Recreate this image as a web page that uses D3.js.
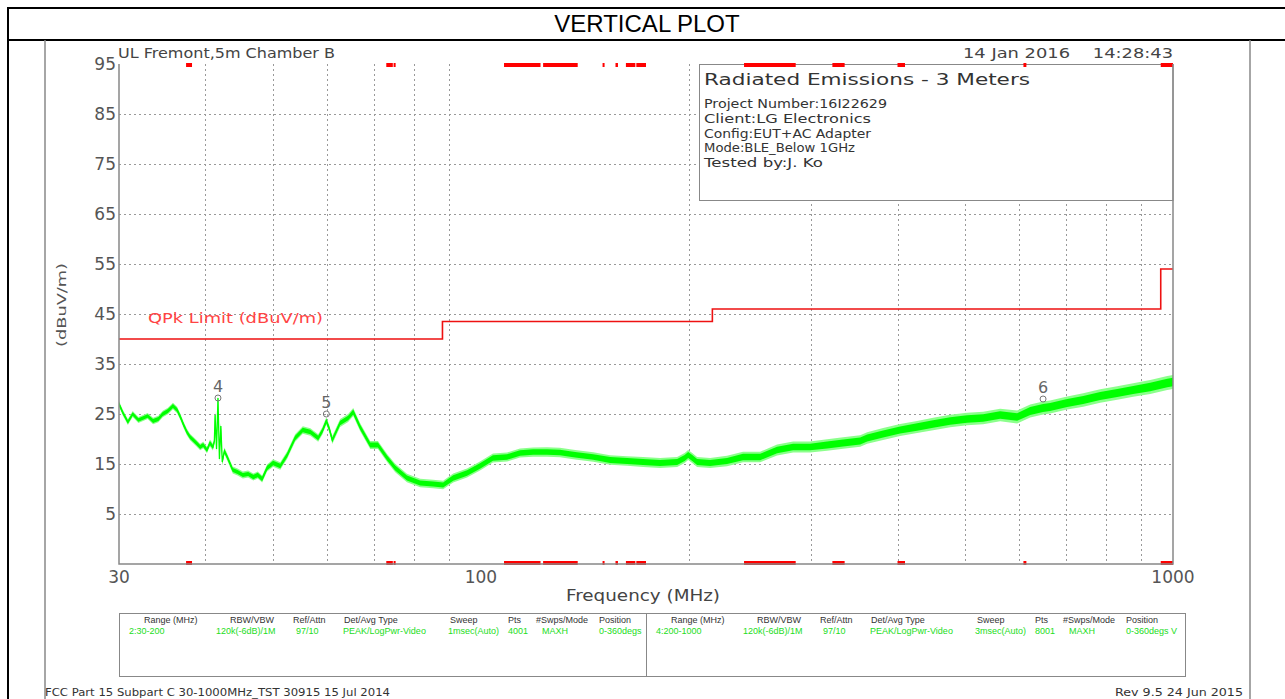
<!DOCTYPE html>
<html>
<head>
<meta charset="utf-8">
<script src="https://cdn.jsdelivr.net/npm/d3@7"></script>
<style>
  body { margin: 0; background: #fff; }
  svg text { font-family: "DejaVu Sans ExtraLight", "DejaVu Sans", sans-serif; white-space: pre; }
</style>
</head>
<body>
<svg id="chart" width="1285" height="699"></svg>
<script>
const traceMHz = [30.0, 30.4, 30.9, 31.4, 32.0, 32.5, 33.0, 33.6, 34.2, 34.7, 35.3, 35.9, 36.4, 36.8, 37.2, 37.6,
  38.0, 38.4, 38.8, 39.3, 39.7, 40.2, 40.6, 41.0, 41.2, 41.3, 41.5, 41.7, 41.9, 42.1, 42.3, 42.6, 43.0, 43.8,
  44.5, 45.3, 46.1, 46.9, 47.6, 48.3, 49.1, 50.1, 51.3, 52.5, 53.9, 55.3, 56.7, 58.2, 59.0, 59.8, 60.4, 61.0,
  62.6, 64.3, 65.4, 66.9, 69.2, 71.0, 73.2, 75.2, 78.2, 81.7, 85.3, 88.2, 91.2, 95.5, 99.7, 104.1, 109.1,
  113.9, 119.0, 124.6, 130.1, 134.5, 137.7, 145.3, 153.7, 162.6, 171.5, 181.5, 192.1, 197.0, 199.3, 202.0,
  205.3, 214.4, 226.8, 239.2, 253.2, 267.9, 282.6, 299.0, 316.4, 333.7, 353.2, 361.5, 381.2, 403.4, 426.9,
  450.2, 476.5, 504.1, 531.8, 562.7, 595.4, 621.8, 649.0, 664.4, 703.3, 741.8, 784.9, 830.6, 876.0, 927.1,
  981.1, 1000];
const traceDb = [27.0, 25.2, 23.4, 25.0, 23.8, 24.2, 24.6, 23.6, 24.0, 25.0, 25.6, 26.6, 25.8, 24.4, 22.8, 21.4,
  20.4, 19.8, 19.2, 18.4, 18.8, 17.8, 19.2, 18.4, 19.5, 24.8, 18.0, 28.2, 16.0, 22.6, 15.4, 17.6, 16.4, 13.8,
  13.4, 12.8, 13.0, 12.4, 12.8, 12.0, 14.2, 15.2, 14.6, 16.8, 20.2, 21.8, 21.4, 20.2, 21.6, 23.6, 22.0, 19.8,
  23.2, 24.2, 25.4, 22.4, 18.8, 18.8, 16.2, 14.2, 12.2, 11.2, 11.0, 10.8, 12.2, 13.2, 14.6, 16.2, 16.4,
  17.2, 17.4, 17.4, 17.3, 17.0, 16.8, 16.4, 15.8, 15.6, 15.4, 15.2, 15.4, 16.2, 16.8, 16.2,
  15.4, 15.2, 15.6, 16.4, 16.4, 17.8, 18.4, 18.4, 18.8, 19.2, 19.6, 20.2, 21.0, 21.8, 22.4,
  23.0, 23.6, 24.0, 24.2, 24.8, 24.4, 25.6, 26.2, 26.4, 27.2, 27.8, 28.6, 29.2, 29.8, 30.4,
  31.2, 31.4];

// peak hold noise half-width, by frequency
const spreadMHz = [30, 100, 200, 400, 1000];
const spreadDb = [0.6, 0.9, 1.0, 1.2, 1.4];

// QPk limit steps
const limitEdges = [30, 88, 216, 960, 1000];
const limitLevels = [40, 43.5, 46, 54];

// restricted bands (red marks on top and bottom)
const bandStart = [37.5, 73, 74.8, 108, 123, 149.9, 156.52, 156.7, 162.01, 167.72, 240, 322, 399.9, 608, 960];
const bandEnd = [38.25, 74.6, 75.2, 121.94, 138, 150.05, 156.53, 156.9, 167.17, 173.2, 285, 335.4, 410, 614, 1000];

const markerIds = ["4", "5", "6"];
const markerMHz = [41.7, 59.8, 649];
const markerDb = [28.2, 25.0, 28.0];

const yTicks = [95, 85, 75, 65, 55, 45, 35, 25, 15, 5];
const xLabels = [30, 100, 1000];
const xGrid = [40, 50, 60, 70, 80, 90, 200, 300, 400, 500, 600, 700, 800, 900];

const infoLines = ["Project Number:16I22629", "Client:LG Electronics", "Config:EUT+AC Adapter",
  "Mode:BLE_Below 1GHz", "Tested by:J. Ko"];

const tableHeaders = ["Range (MHz)", "RBW/VBW", "Ref/Attn", "Det/Avg Type", "Sweep", "Pts", "#Swps/Mode", "Position"];
const tableLeft = ["2:30-200", "120k(-6dB)/1M", "97/10", "PEAK/LogPwr-Video", "1msec(Auto)", "4001", "MAXH", "0-360degs"];
const tableRight = ["4:200-1000", "120k(-6dB)/1M", "97/10", "PEAK/LogPwr-Video", "3msec(Auto)", "8001", "MAXH", "0-360degs V"];

const svg = d3.select("#chart");
const x = d3.scaleLog().domain([30, 1000]).range([119, 1173]);
const y = d3.scaleLinear().domain([-5, 95]).range([564, 64]);
const spread = d3.scaleLog().domain(spreadMHz).range(spreadDb);

function label(str, px, py, opts = {}) {
  const t = svg.append("text")
    .attr("x", px).attr("y", py)
    .attr("font-size", opts.size || 12)
    .attr("fill", opts.fill || "#555")
    .attr("text-anchor", opts.anchor || "start")
    .text(str);
  if (opts.len) t.attr("textLength", opts.len).attr("lengthAdjust", "spacingAndGlyphs");
  if (opts.family) t.style("font-family", opts.family);
  return t;
}

// outer frame + title bar
svg.append("rect").attr("x", 8).attr("y", 8).attr("width", 1300).attr("height", 720)
  .attr("fill", "none").attr("stroke", "#000").attr("stroke-width", 2);
svg.append("line").attr("x1", 8).attr("x2", 1285).attr("y1", 40).attr("y2", 40)
  .attr("stroke", "#000").attr("stroke-width", 2);
label("VERTICAL PLOT", 647, 32, { size: 24, fill: "#000", anchor: "middle", family: "'Liberation Sans', Arial, sans-serif" });

// inner panel
[45, 1250].forEach(px => {
  svg.append("line").attr("x1", px).attr("x2", px).attr("y1", 40).attr("y2", 699)
    .attr("stroke", "#888").attr("stroke-width", 1.5);
});

// grid
const grid = svg.append("g").attr("stroke", "#999").attr("stroke-width", 1).attr("stroke-dasharray", "2,3");
grid.selectAll("line.h").data(yTicks.filter(v => v < 95)).enter().append("line")
  .attr("x1", x(30)).attr("x2", x(1000))
  .attr("y1", d => y(d) + 0.5).attr("y2", d => y(d) + 0.5);
grid.selectAll("line.v").data(xGrid).enter().append("line")
  .attr("x1", d => Math.round(x(d)) + 0.5).attr("x2", d => Math.round(x(d)) + 0.5)
  .attr("y1", y(95)).attr("y2", y(-5));

// info box
svg.append("rect").attr("x", 699.5).attr("y", 64.5).attr("width", x(1000) - 699.5).attr("height", 136)
  .attr("fill", "#fff").attr("stroke", "#888").attr("stroke-width", 1);
label("Radiated Emissions - 3 Meters", 704, 85, { size: 16, fill: "#333", len: 326 });
const infoLens = [183, 167, 167, 151, 119];
infoLines.forEach((s, i) => label(s, 704, 108 + i * 14.8, { size: 12, fill: "#333", len: infoLens[i] }));

// limit line
const limitPts = limitEdges.map((f, i) => [f, limitLevels[Math.min(i, limitLevels.length - 1)]]);
svg.append("path")
  .attr("d", d3.line().x(d => x(d[0])).y(d => y(d[1])).curve(d3.curveStepAfter)(limitPts))
  .attr("fill", "none").attr("stroke", "#ee1111").attr("stroke-width", 1.6);
label("QPk Limit (dBuV/m)", 148, 323, { size: 14, fill: "#ff4444", len: 175 });

// trace: peak-hold band + centre line
svg.append("clipPath").attr("id", "plotclip").append("rect")
  .attr("x", x(30)).attr("y", y(95)).attr("width", x(1000) - x(30)).attr("height", y(-5) - y(95));
const trace = traceMHz.map((f, i) => ({ f: f, v: traceDb[i] }));
const tg = svg.append("g").attr("clip-path", "url(#plotclip)");
const band = k => d3.area().x(d => x(d.f))
  .y0(d => y(d.v - spread(d.f) * k)).y1(d => y(d.v + spread(d.f) * k))(trace);
tg.append("path").attr("d", band(1)).attr("fill", "#8cff8c").attr("stroke", "none");
tg.append("path").attr("d", band(0.6)).attr("fill", "#00ff00").attr("stroke", "none");
tg.append("path")
  .attr("d", d3.line().x(d => x(d.f)).y(d => y(d.v))(trace))
  .attr("fill", "none").attr("stroke", "#00ff00").attr("stroke-width", 1.3);

// markers
markerIds.forEach((m, i) => {
  const mx = x(markerMHz[i]), my = y(markerDb[i]);
  svg.append("circle").attr("cx", mx).attr("cy", my).attr("r", 3)
    .attr("fill", "none").attr("stroke", "#777").attr("stroke-width", 1);
  label(m, mx, my - 6, { size: 16, fill: "#666", anchor: "middle" });
});

// restricted band marks
[y(95) - 1, y(-5) - 3].forEach(py => {
  svg.append("g").selectAll("rect").data(bandStart).enter().append("rect")
    .attr("x", d => x(d))
    .attr("width", (d, i) => Math.max(2, x(bandEnd[i]) - x(d)))
    .attr("y", py).attr("height", 4)
    .attr("fill", "#ff0000");
});

// plot frame
const frame = svg.append("g").attr("stroke", "#888").attr("stroke-width", 1.5).attr("fill", "none");
frame.append("path").attr("d", `M${x(30)},${y(95)}V${y(-5)}H${x(1000)}V${y(95)}`);

// axis labels
yTicks.forEach(v => label(v, 116, y(v) + 6, { size: 17, fill: "#555", anchor: "end" }));
xLabels.forEach(v => label(v, x(v), 583, { size: 17, fill: "#555", anchor: "middle" }));
label("Frequency (MHz)", 643, 601, { size: 16, fill: "#444", anchor: "middle", len: 154 });
svg.append("text").attr("transform", "translate(66,305) rotate(-90)")
  .attr("text-anchor", "middle").attr("font-size", 13).attr("fill", "#555")
  .attr("textLength", 84).attr("lengthAdjust", "spacingAndGlyphs").text("(dBuV/m)");

label("UL Fremont,5m Chamber B", 118, 58, { size: 14, fill: "#444", len: 217 });
label("14 Jan 2016    14:28:43", 1173, 58, { size: 14, fill: "#444", anchor: "end", len: 210 });

// settings table
svg.append("rect").attr("x", 119.5).attr("y", 613.5).attr("width", 1066).attr("height", 63)
  .attr("fill", "none").attr("stroke", "#888").attr("stroke-width", 1);
svg.append("line").attr("x1", 646.5).attr("x2", 646.5).attr("y1", 613.5).attr("y2", 676.5)
  .attr("stroke", "#888").attr("stroke-width", 1);
const headOff = [25, 111, 174, 225, 331, 389, 417, 480];
const valOff = [10, 97, 177, 224, 329, 389, 423, 480];
const tf = "'Liberation Sans Narrow', 'Liberation Sans', sans-serif";
[[119, tableLeft], [646, tableRight]].forEach(([x0, vals]) => {
  tableHeaders.forEach((h, i) => label(h, x0 + headOff[i], 623, { size: 9, fill: "#333", family: tf }));
  vals.forEach((v, i) => label(v, x0 + valOff[i], 634, { size: 9, fill: "#22dd22", family: tf }));
});

// footer
label("FCC Part 15 Subpart C 30-1000MHz_TST 30915 15 Jul 2014", 45, 696, { size: 11, fill: "#333", len: 345 });
label("Rev 9.5 24 Jun 2015", 1243, 696, { size: 11, fill: "#333", anchor: "end", len: 128 });
</script>
</body>
</html>
